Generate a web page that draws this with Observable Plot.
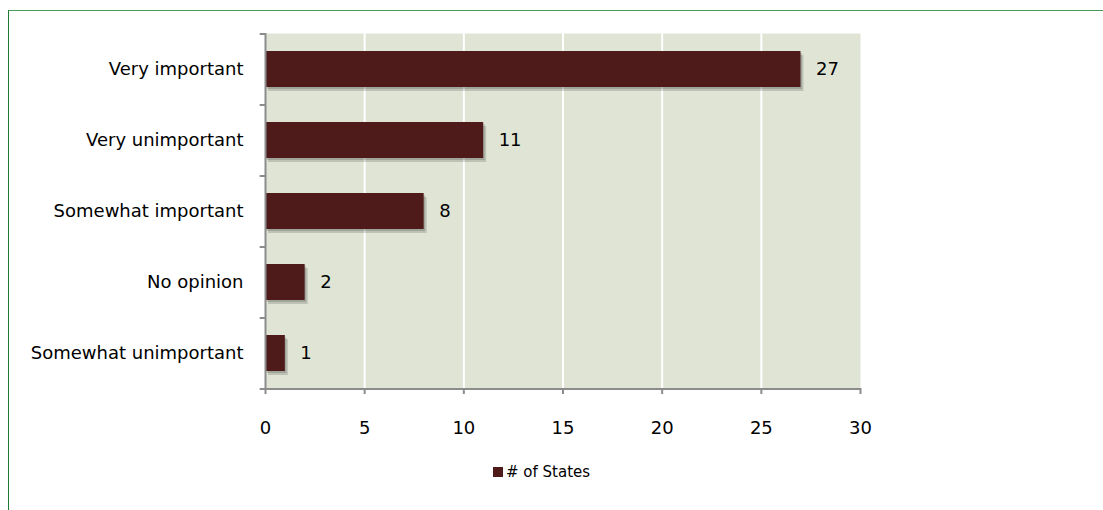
<!DOCTYPE html>
<html><head><meta charset="utf-8">
<script src="https://cdn.jsdelivr.net/npm/d3@7"></script>
<script src="https://cdn.jsdelivr.net/npm/@observablehq/plot@0.6"></script>
<style>
html,body{margin:0;padding:0;background:#fff;}
#wrap{position:relative;width:1103px;height:510px;overflow:hidden;font-family:"DejaVu Sans",sans-serif;}
#border{position:absolute;left:8px;top:10px;width:1200px;height:600px;border-top:1px solid #4a9a5c;border-left:1px solid #1f7a30;}
#chart{position:absolute;left:0;top:0;}
#legend{position:absolute;left:493px;top:463px;font-size:15px;color:#000;display:flex;align-items:center;}
#legend span.sw{display:inline-block;width:10px;height:10px;background:#4f1a1a;margin-right:3px;}
</style></head>
<body><div id="wrap"><div id="border"></div><div id="chart"></div>
<div id="legend"><span class="sw"></span><span id="legtext"></span></div></div>
<script>
const categories = ["Very important","Very unimportant","Somewhat important","No opinion","Somewhat unimportant"];
const values = [27, 11, 8, 2, 1];
const xTicks = [0,5,10,15,20,25,30];
const seriesName = "# of States";

const data = categories.map((c,i)=>({cat:c, v:values[i]}));
const barColor = "#4f1a1a";
const axisColor = "#8c8c8c";
const half = 35.5;

const chart = Plot.plot({
  width: 1103, height: 440,
  marginLeft: 265, marginRight: 243, marginTop: 33, marginBottom: 52,
  style: {fontFamily: "'DejaVu Sans', sans-serif", fontSize: "18px", color: "#000", background: "transparent"},
  x: {domain: [0,30], ticks: xTicks, label: null},
  y: {domain: categories, paddingInner: 0.5, paddingOuter: 0.25, label: null},
  marks: [
    Plot.frame({fill: "#dfe4d5", stroke: "none"}),
    Plot.ruleX(xTicks.filter(t=>t>0 && t<30), {stroke: "white", strokeWidth: 2}),
    Plot.barX(data, {y: "cat", x: "v", fill: "#000", fillOpacity: 0.15, dx: 3, dy: 4}),
    Plot.barX(data, {y: "cat", x: "v", fill: "#000", fillOpacity: 0.15, dx: 1.5, dy: 2}),
    Plot.barX(data, {y: "cat", x: "v", fill: barColor}),
    Plot.text(data, {y: "cat", x: "v", text: d=>String(d.v), textAnchor: "start", dx: 15, fontSize: 18}),
    Plot.ruleX([0], {stroke: axisColor, strokeWidth: 2}),
    Plot.ruleY(categories, {y: d=>d, x1: -0.27, x2: 0, dy: -half, stroke: axisColor, strokeWidth: 2}),
    Plot.ruleY([categories[categories.length-1]], {y: d=>d, x1: -0.27, x2: 30, dy: half, stroke: axisColor, strokeWidth: 2}),
    Plot.axisX({ticks: xTicks, tickSize: 6, tickPadding: 27, stroke: axisColor, strokeWidth: 2, label: null, fontSize: 18}),
    Plot.axisY({tickSize: 0, tickPadding: 22, label: null, fontSize: 18})
  ]
});
document.getElementById("chart").appendChild(chart);
document.getElementById("legtext").textContent = seriesName;
</script></body></html>
